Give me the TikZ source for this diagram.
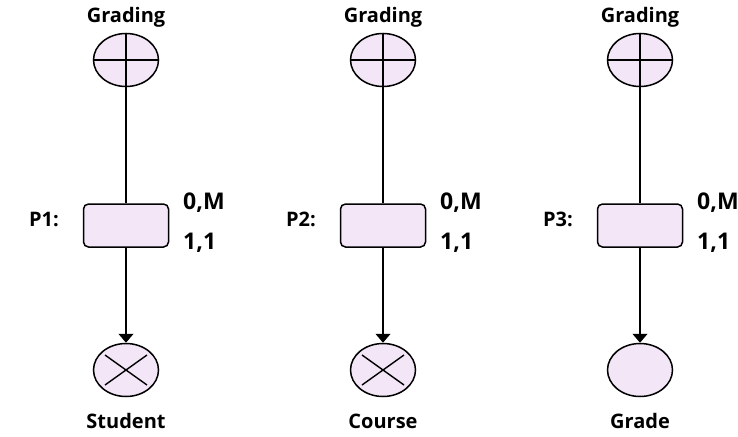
\documentclass[tikz,border=0pt]{standalone}
\usepackage{fontspec}
\setmainfont{Open Sans}
\usetikzlibrary{arrows.meta,shapes.geometric,calc}
\definecolor{lav}{RGB}{243,231,247}
\tikzset{
  ent/.style={ellipse,draw=black,line width=1.5pt,fill=lav,minimum width=65pt,minimum height=53pt,inner sep=0pt},
  relbox/.style={rectangle,rounded corners=5pt,draw=black,line width=1.5pt,fill=lav,minimum width=85pt,minimum height=43pt},
  lbl/.style={font=\fontsize{20}{24}\selectfont\bfseries,inner sep=0pt},
  card/.style={font=\fontsize{23}{27}\selectfont\bfseries,inner sep=0pt},
  link/.style={line width=1.2pt},
  arr/.style={line width=1.2pt,-{Triangle[width=15pt,length=9pt]}},
  crossline/.style={line width=1.4pt}
}
\begin{document}
\begin{tikzpicture}[x=1pt,y=-1pt]
\useasboundingbox (0,0) rectangle (738,436);
% one column per path: Grading -> path node -> target
\foreach \cx/\p/\tgt [count=\i] in {126/P1/Student,383/P2/Course,640/P3/Grade}{
  \node[lbl] (g\i) at (\cx,17) {Grading};
  \node[ent] (top\i) at (\cx,60) {};
  \draw[crossline] (top\i.north) -- (top\i.south);
  \draw[crossline] (top\i.west) -- (top\i.east);
  \node[relbox] (r\i) at (\cx,225.5) {};
  \node[lbl,anchor=east] (pl\i) at ($(\cx,219)+(-67,0)$) {\p:};
  \node[card,anchor=west] (m\i) at ($(\cx,203)+(57,0)$) {0,M};
  \node[card,anchor=west] (o\i) at ($(\cx,243)+(57,0)$) {1,1};
  \node[ent] (b\i) at (\cx,370) {};
  \node[lbl] (t\i) at (\cx,421) {\tgt};
  \draw[link] (top\i.south) -- (r\i.north);
  \draw[arr] (r\i.south) -- (b\i.north);
}
% crossed markers on the first two targets
\foreach \i in {1,2}{
  \draw[crossline] ($(b\i.center)+(-21,-15)$) -- ($(b\i.center)+(21,15)$);
  \draw[crossline] ($(b\i.center)+(-21,15)$) -- ($(b\i.center)+(21,-15)$);
}
\end{tikzpicture}
\end{document}
